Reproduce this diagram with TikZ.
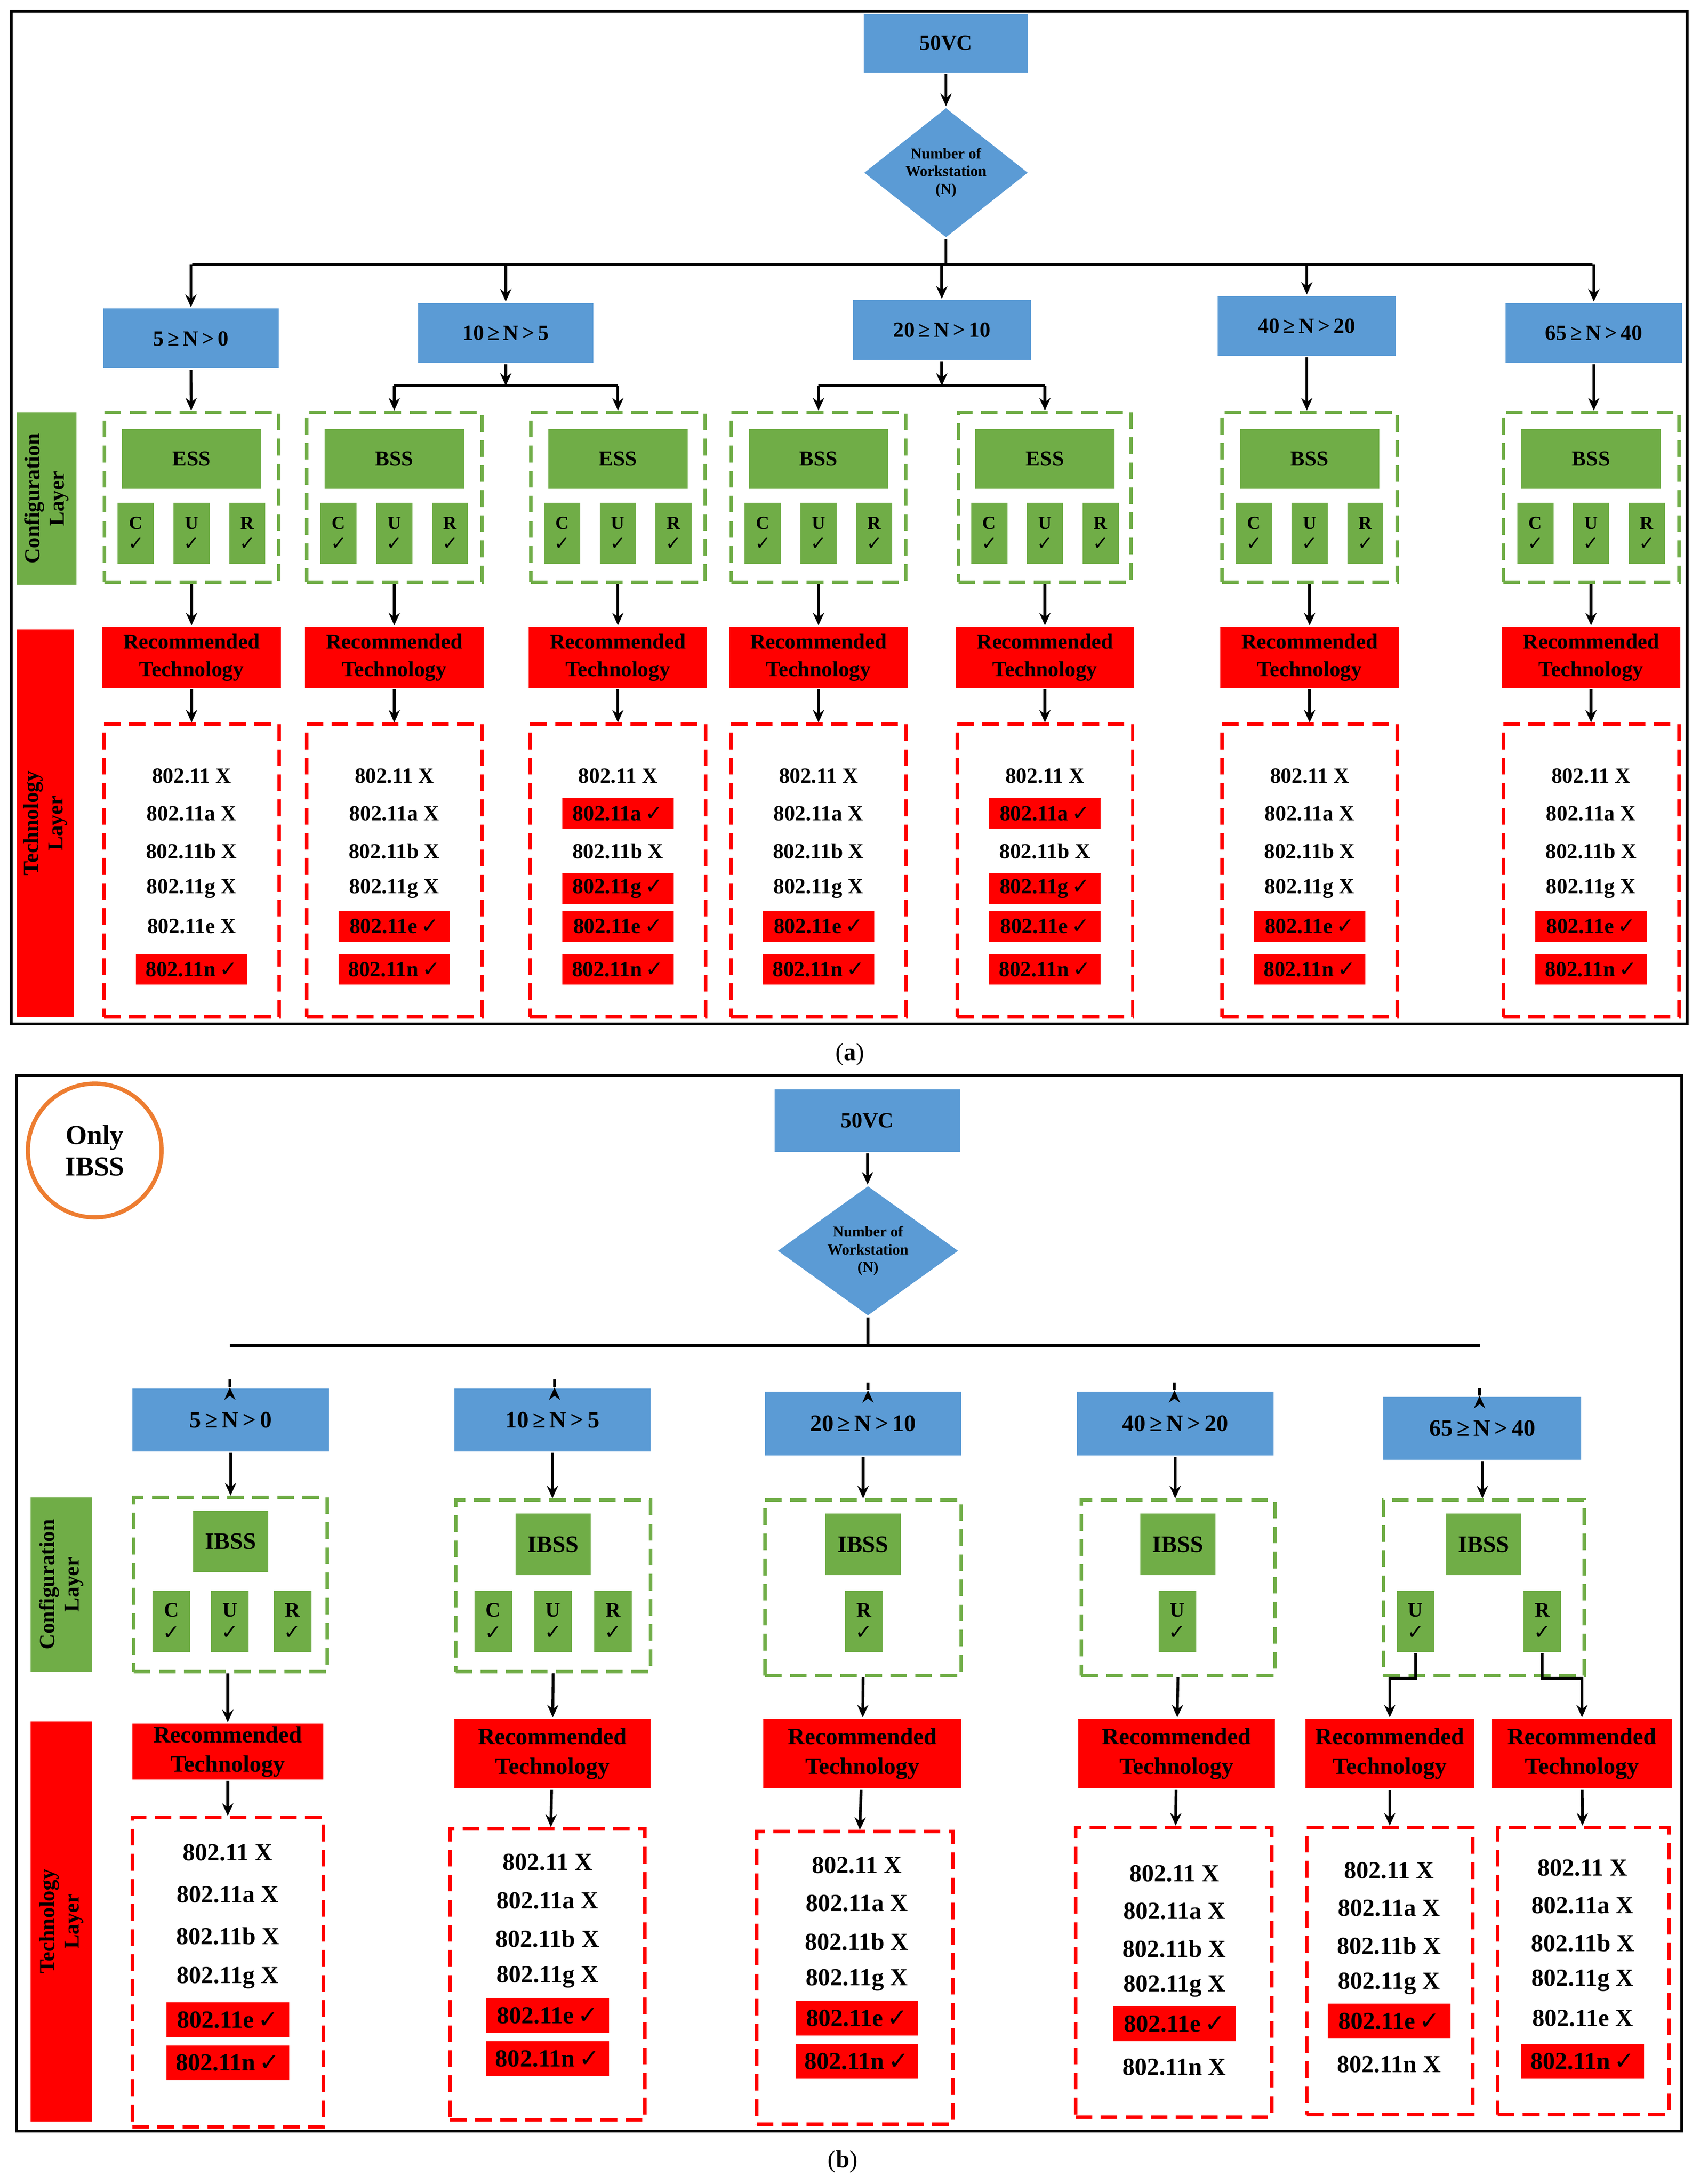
\documentclass[tikz,border=0pt]{standalone}
\usepackage{fontspec}
\setmainfont{Liberation Serif}
\newfontfamily\sym{DejaVu Sans}
\usetikzlibrary{shapes.geometric,arrows.meta}
\definecolor{bl}{HTML}{5B9BD5}
\definecolor{gr}{HTML}{70AD47}
\definecolor{rd}{HTML}{FF0000}
\definecolor{og}{HTML}{ED7D31}
\newcommand\ck{{\sym\bfseries ✓}}
\newcommand\tech[9]{% name, cx, y0, dy, fa fb fg fe fn
 \node[tt] (#1x) at (#2,#3) {802.11 X};
 \foreach \l/\k/\f in {a/1/#5,b/2/#6,g/3/#7,e/4/#8,n/5/#9}{
  \pgfmathsetmacro\yy{\k<5 ? #3+\k*#4 : #3+4*#4+31}
  \ifnum\f=1 \node[tt,hl] (#1\l) at (#2,\yy) {802.11\l\,\ck};
  \else \node[tt] (#1\l) at (#2,\yy) {802.11\l\ X}; \fi}}
\newcommand\cur[3]{% name, x, y
 \node[gbox,minimum width=27mm,minimum height=44mm,align=center,font=\fontsize{40}{44}\selectfont\bfseries] (#1) at (#2,#3) {\raisebox{0pt}{\strut}\hspace{0pt}\makebox{\csname cl#1\endcsname}\\\ck};}
\begin{document}
\begin{tikzpicture}[x=1mm,y=-1mm,
 line width=2mm,
 arr/.style={-{Stealth[length=9mm,width=8mm]},line width=2mm},
 bbox/.style={fill=bl,draw=none,inner sep=0,font=\fontsize{44}{48}\selectfont\bfseries},
 gbox/.style={fill=gr,draw=none,inner sep=0,font=\fontsize{44}{48}\selectfont\bfseries},
 rbox/.style={fill=rd,draw=none,inner sep=0,align=center,font=\fontsize{44}{56}\selectfont\bfseries},
 gdash/.style={draw=gr,dash pattern=on 12mm off 6mm,line width=2.5mm,inner sep=0},
 rdash/.style={draw=rd,dash pattern=on 12mm off 6mm,line width=2.5mm,inner sep=0},
 dia/.style={diamond,fill=bl,draw=none,inner sep=0,align=center,font=\fontsize{31}{36}\selectfont\bfseries},
 tt/.style={inner sep=0,font=\fontsize{44}{48}\selectfont\bfseries},
 hl/.style={fill=rd,minimum width=80mm,minimum height=22mm},
 side/.style={rotate=90,align=center,inner sep=0,font=\fontsize{44}{50}\selectfont\bfseries},
]
\useasboundingbox[fill=white] (0,0) rectangle (1220,1568);
% ================= (a)
\draw[line width=2mm] (8,8) rectangle (1211,735);
\node[bbox,minimum width=118mm,minimum height=42mm] (vcA) at (679,31) {50VC};
\node[dia,minimum width=118mm,minimum height=86mm] (dA) at (679,124) {Number of\\Workstation\\(N)};
\draw[arr] (vcA) -- (dA);
\coordinate (hA) at (679,190);
\coordinate (hAL) at (138,190);
\coordinate (hAR) at (1143,190);
\draw (dA.south) -- (hA);
\draw (hAL) -- (hAR);
\node[bbox,minimum width=126mm,minimum height=43mm] (rA1) at (137,243) {5\,≥\,N\,>\,0};
\node[bbox,minimum width=126mm,minimum height=43mm] (rA2) at (363,239) {10\,≥\,N\,>\,5};
\node[bbox,minimum width=128mm,minimum height=43mm] (rA3) at (676,237) {20\,≥\,N\,>\,10};
\node[bbox,minimum width=128mm,minimum height=43mm] (rA4) at (938,234) {40\,≥\,N\,>\,20};
\node[bbox,minimum width=127mm,minimum height=43mm] (rA5) at (1144,239) {65\,≥\,N\,>\,40};
\foreach \i in {1,...,5}{\draw[arr] (rA\i.north |- hA) -- (rA\i.north);}
\node[gbox,minimum width=43mm,minimum height=124mm] (cfA) at (33.5,358) {};
\node[side] at (cfA) {Configuration\\Layer};
\node[fill=rd,inner sep=0,minimum width=41mm,minimum height=278mm] (tlA) at (32.5,591) {};
\node[side] at (tlA) {Technology\\Layer};
\foreach \i/\x/\w/\t/\fa/\fb/\fg/\fe/\fn in {1/137.5/125/ESS/0/0/0/0/1, 2/283/126/BSS/0/0/0/1/1, 3/443.5/125/ESS/1/0/1/1/1, 4/587.5/125/BSS/0/0/0/1/1, 5/750/124/ESS/1/0/1/1/1, 6/940/126/BSS/0/0/0/1/1, 7/1142/126/BSS/0/0/0/1/1}{
 \node[gdash,minimum width=\w mm,minimum height=122mm] (cA\i) at (\x,357) {};
 \node[gbox,minimum width=100mm,minimum height=43mm] (eA\i) at (\x,329.5) {\t};
 \foreach \c/\o in {C/-40,U/0,R/40}{
  \node[gbox,minimum width=26mm,minimum height=44mm,align=center,font=\fontsize{38}{42}\selectfont\bfseries] (cA\i\c) at (\x+\o,383) {\c\\\ck};}
 \node[rbox,minimum width=128mm,minimum height=44mm] (qA\i) at (\x,472) {Recommended\\Technology};
 \node[rdash,minimum width=126mm,minimum height=210mm] (tA\i) at (\x,625) {};
 \draw[arr] (cA\i) -- (qA\i);
 \draw[arr] (qA\i) -- (tA\i);
 \tech{xA\i}{\x}{557}{27}{\fa}{\fb}{\fg}{\fe}{\fn}
}
\draw[arr] (rA1) -- (cA1);
\draw[arr] (rA4.south) -- (cA6.north -| rA4.south);
\draw[arr] (rA5.south) -- (cA7.north -| rA5.south);
\coordinate (sA2) at (363,277);
\coordinate (sA3) at (676,277);
\draw[arr] (rA2.south) -- (sA2);
\draw[arr] (rA3.south) -- (sA3);
\draw (cA2.north |- sA2) -- (cA3.north |- sA2);
\draw (cA4.north |- sA3) -- (cA5.north |- sA3);
\foreach \i in {2,3}{\draw[arr] (cA\i.north |- sA2) -- (cA\i.north);}
\foreach \i in {4,5}{\draw[arr] (cA\i.north |- sA3) -- (cA\i.north);}
\node[font=\fontsize{50}{56}\selectfont] (capA) at (610,757) {(\textbf{a})};
% ================= (b)
\draw[line width=2mm] (12,772) rectangle (1207,1530);
\node[circle,draw=og,line width=3mm,minimum size=96mm,inner sep=0,align=center,font=\fontsize{56}{64}\selectfont\bfseries] (ob) at (68,826) {Only\\IBSS};
\node[bbox,minimum width=133mm,minimum height=45mm] (vcB) at (622.5,804.5) {50VC};
\node[dia,minimum width=130mm,minimum height=84mm] (dB) at (623,898) {Number of\\Workstation\\(N)};
\draw[arr] (vcB) -- (dB);
\coordinate (hB) at (623,966);
\coordinate (hBL) at (165,966);
\coordinate (hBR) at (1062,966);
\draw (dB.south) -- (hB);
\draw (hBL) -- (hBR);
\begin{scope}[bbox/.append style={font=\fontsize{48}{52}\selectfont\bfseries},
 gbox/.append style={font=\fontsize{48}{52}\selectfont\bfseries},
 rbox/.append style={font=\fontsize{48}{60}\selectfont\bfseries},
 tt/.append style={font=\fontsize{50}{54}\selectfont\bfseries},
 hl/.append style={minimum width=88mm,minimum height=25mm}]
\node[bbox,minimum width=141mm,minimum height=45mm] (rB1) at (165.5,1019.5) {5\,≥\,N\,>\,0};
\node[bbox,minimum width=141mm,minimum height=45mm] (rB2) at (396.5,1019.5) {10\,≥\,N\,>\,5};
\node[bbox,minimum width=141mm,minimum height=46mm] (rB3) at (619.5,1022) {20\,≥\,N\,>\,10};
\node[bbox,minimum width=141mm,minimum height=46mm] (rB4) at (843.5,1022) {40\,≥\,N\,>\,20};
\node[bbox,minimum width=142mm,minimum height=45mm] (rB5) at (1064,1025.5) {65\,≥\,N\,>\,40};
\foreach \i/\x in {1/165,2/398,3/623,4/843,5/1062}{\draw[arr] (rB\i.north -| \x,0) -- (\x,0 |- rB\i.north);}
\node[gbox,minimum width=44mm,minimum height=125mm] (cfB) at (44,1137.5) {};
\node[side] at (cfB) {Configuration\\Layer};
\node[fill=rd,inner sep=0,minimum width=44mm,minimum height=287mm] (tlB) at (44,1379.5) {};
\node[side] at (tlB) {Technology\\Layer};
\node[gdash,minimum width=139mm,minimum height=125mm] (cB1) at (165.5,1137.5) {};
\node[gdash,minimum width=140mm,minimum height=123mm] (cB2) at (397,1138.5) {};
\node[gdash,minimum width=141mm,minimum height=126mm] (cB3) at (619.5,1140) {};
\node[gdash,minimum width=139mm,minimum height=126mm] (cB4) at (845.5,1140) {};
\node[gdash,minimum width=144mm,minimum height=126mm] (cB5) at (1065,1140) {};
\foreach \i in {1,...,5}{\draw[arr] (rB\i.south) -- (cB\i.north -| rB\i.south);
 \node[gbox,minimum width=54mm,minimum height=44mm] (iB\i) at ([yshift=-33mm]cB\i.north) {IBSS};}
\foreach \n/\c/\x in {B1C/C/123,B1U/U/165,B1R/R/210,B2C/C/354,B2U/U/397,B2R/R/440,B3R/R/620,B4U/U/845,B5U/U/1016,B5R/R/1107}{
 \node[gbox,minimum width=27mm,minimum height=44mm,align=center,font=\fontsize{42}{46}\selectfont\bfseries] (k\n) at (\x,1164) {\c\\\ck};}
\node[rbox,minimum width=137mm,minimum height=40mm] (qB1) at (163.5,1257.5) {Recommended\\Technology};
\node[rbox,minimum width=141mm,minimum height=50mm] (qB2) at (396.5,1259) {Recommended\\Technology};
\node[rbox,minimum width=142mm,minimum height=50mm] (qB3) at (619,1259) {Recommended\\Technology};
\node[rbox,minimum width=141mm,minimum height=50mm] (qB4) at (844.5,1259) {Recommended\\Technology};
\node[rbox,minimum width=121mm,minimum height=50mm] (qB5) at (997.5,1259) {Recommended\\Technology};
\node[rbox,minimum width=129mm,minimum height=50mm] (qB6) at (1135.5,1259) {Recommended\\Technology};
\node[rdash,minimum width=137mm,minimum height=222mm] (tB1) at (163.5,1416) {};
\node[rdash,minimum width=140mm,minimum height=209mm] (tB2) at (393,1417.5) {};
\node[rdash,minimum width=141mm,minimum height=210mm] (tB3) at (613.5,1420) {};
\node[rdash,minimum width=141mm,minimum height=208mm] (tB4) at (842.5,1416) {};
\node[rdash,minimum width=119mm,minimum height=206mm] (tB5) at (997.5,1415) {};
\node[rdash,minimum width=123mm,minimum height=206mm] (tB6) at (1136.5,1415) {};
\foreach \i in {1,...,6}{\draw[arr] (qB\i) -- (tB\i);}
\draw[arr] (cB1.south -| qB1.north) -- (qB1);
\foreach \i in {2,3,4}{\draw[arr] (cB\i.south) -- (qB\i);}
\coordinate (uB) at (1016,1205);
\coordinate (vB) at (1107,1205);
\draw[arr] (kB5U.south) -- (uB) -- (uB -| qB5.north) -- (qB5.north);
\draw[arr] (kB5R.south) -- (vB) -- (vB -| qB6.north) -- (qB6.north);
\tech{xB1}{163.5}{1330}{30}{0}{0}{0}{1}{1}
\tech{xB2}{393}{1337}{27.5}{0}{0}{0}{1}{1}
\tech{xB3}{615}{1339}{27.5}{0}{0}{0}{1}{1}
\tech{xB4}{843}{1345}{27}{0}{0}{0}{1}{0}
\tech{xB5}{997}{1343}{27}{0}{0}{0}{1}{0}
\tech{xB6}{1136}{1341}{27}{0}{0}{0}{0}{1}
\end{scope}
\node[font=\fontsize{50}{56}\selectfont] (capB) at (605,1552) {(\textbf{b})};
\end{tikzpicture}
\end{document}
